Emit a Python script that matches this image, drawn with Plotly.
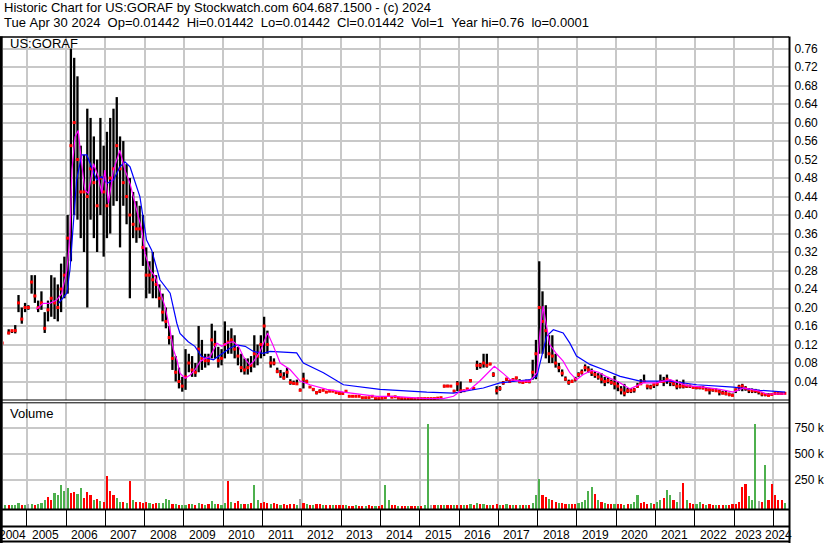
import plotly.graph_objects as go
import pandas as pd

# ---------------- text ----------------
header_line1 = "Historic Chart for US:GORAF by Stockwatch.com 604.687.1500 - (c) 2024"
header_line2 = ("Tue Apr 30 2024  Op=0.01442  Hi=0.01442  Lo=0.01442  Cl=0.01442  "
                "Vol=1  Year hi=0.76  lo=0.0001")
symbol_label = "US:GORAF"
volume_label = "Volume"

# ---------------- monthly price data (May 2004 .. Apr 2024) ----------------
first_month = "2004-05"
last_month = "2024-04"

highs = [
    0.123, None, 0.153, 0.150, 0.162, 0.227, 0.200, 0.210,                          # 2004
    0.205, 0.270, 0.270, 0.215, 0.235, 0.190, 0.215, 0.270, 0.265, 0.250, 0.295, 0.310,  # 2005
    0.400, 0.760, 0.740, 0.700, 0.550, 0.530, 0.630, 0.610, 0.570, 0.520, 0.610, 0.550,  # 2006
    0.580, 0.610, 0.630, 0.655, 0.570, 0.560, 0.510, 0.480, 0.450, 0.430, 0.420, 0.400,  # 2007
    0.330, 0.300, 0.320, 0.270, 0.250, 0.230, 0.200, 0.160, 0.140, 0.095, 0.070, 0.050,  # 2008
    0.110, 0.100, 0.095, 0.080, 0.160, 0.130, 0.100, 0.100, 0.165, 0.150, 0.115, 0.110,  # 2009
    0.170, 0.150, 0.155, 0.140, 0.115, 0.100, 0.090, 0.090, 0.095, 0.140, 0.120, 0.140,  # 2010
    0.180, 0.150, 0.095, 0.090, 0.070, 0.065, 0.060, 0.070, 0.045, 0.042, 0.044, 0.025,  # 2011
    0.059, 0.044, 0.030, 0.026, 0.019, 0.023, 0.023, 0.019, 0.020, 0.020, 0.017, 0.015,  # 2012
    0.016, 0.020, 0.009, 0.009, 0.009, 0.008, 0.006, 0.006, 0.006, 0.008, 0.004, 0.004,  # 2013
    0.005, 0.006, 0.013, 0.007, 0.007, 0.005, 0.004, 0.004, 0.004, 0.004, 0.003, 0.004,  # 2014
    0.004, 0.004, 0.004, 0.004, 0.004, 0.005, 0.006, 0.033, 0.033, 0.032, 0.022, 0.041,  # 2015
    0.040, 0.022, 0.026, 0.045, 0.028, 0.085, 0.080, 0.100, 0.100, 0.080, 0.060, 0.030,  # 2016
    0.030, 0.041, 0.048, 0.044, 0.047, 0.050, 0.045, 0.042, 0.044, 0.044, 0.087, 0.130,  # 2017
    0.300, 0.235, 0.205, 0.140, 0.140, 0.100, 0.080, 0.066, 0.051, 0.044, 0.044, 0.050,  # 2018
    0.060, 0.066, 0.077, 0.073, 0.068, 0.062, 0.058, 0.058, 0.050, 0.050, 0.044, 0.052,  # 2019
    0.040, 0.030, 0.035, 0.026, 0.026, 0.026, 0.037, 0.045, 0.055, 0.033, 0.033, 0.035,  # 2020
    0.040, 0.055, 0.050, 0.055, 0.044, 0.040, 0.044, 0.040, 0.044, 0.033, 0.033, 0.030,  # 2021
    0.030, 0.030, 0.030, 0.026, 0.026, 0.026, 0.025, 0.023, 0.020, 0.020, 0.016, 0.014,  # 2022
    0.025, 0.033, 0.035, 0.030, 0.026, 0.025, 0.024, 0.022, 0.016, 0.015, 0.015, 0.015,  # 2023
    0.015, 0.015, 0.015, 0.0144,                                                      # 2024
]

lows = [
    0.123, None, 0.142, 0.145, 0.144, 0.190, 0.165, 0.190,
    0.195, 0.230, 0.210, 0.190, 0.195, 0.145, 0.170, 0.180, 0.175, 0.170, 0.190, 0.220,
    0.230, 0.300, 0.400, 0.390, 0.350, 0.320, 0.200, 0.390, 0.350, 0.320, 0.400, 0.310,
    0.350, 0.360, 0.420, 0.430, 0.330, 0.420, 0.380, 0.220, 0.350, 0.340, 0.350, 0.290,
    0.220, 0.230, 0.220, 0.220, 0.200, 0.170, 0.155, 0.120, 0.065, 0.040, 0.025, 0.018,
    0.022, 0.060, 0.050, 0.050, 0.060, 0.065, 0.070, 0.075, 0.090, 0.090, 0.070, 0.075,
    0.090, 0.100, 0.100, 0.090, 0.075, 0.060, 0.055, 0.055, 0.060, 0.070, 0.075, 0.090,
    0.095, 0.100, 0.070, 0.075, 0.058, 0.048, 0.044, 0.048, 0.033, 0.033, 0.033, 0.019,
    0.025, 0.037, 0.026, 0.019, 0.012, 0.015, 0.019, 0.016, 0.018, 0.018, 0.015, 0.013,
    0.013, 0.018, 0.007, 0.007, 0.007, 0.007, 0.004, 0.004, 0.004, 0.007, 0.002, 0.002,
    0.003, 0.004, 0.011, 0.005, 0.006, 0.003, 0.002, 0.002, 0.002, 0.002, 0.001, 0.002,
    0.002, 0.002, 0.002, 0.002, 0.002, 0.003, 0.004, 0.027, 0.028, 0.028, 0.017, 0.019,
    0.015, 0.018, 0.022, 0.038, 0.022, 0.065, 0.068, 0.070, 0.070, 0.075, 0.050, 0.012,
    0.020, 0.033, 0.041, 0.038, 0.040, 0.044, 0.036, 0.035, 0.038, 0.036, 0.044, 0.045,
    0.100, 0.100, 0.090, 0.080, 0.080, 0.070, 0.060, 0.051, 0.041, 0.033, 0.037, 0.040,
    0.050, 0.055, 0.062, 0.059, 0.052, 0.048, 0.044, 0.036, 0.030, 0.036, 0.033, 0.023,
    0.019, 0.012, 0.008, 0.015, 0.015, 0.016, 0.026, 0.035, 0.037, 0.023, 0.023, 0.026,
    0.030, 0.037, 0.030, 0.035, 0.030, 0.030, 0.023, 0.025, 0.025, 0.026, 0.026, 0.024,
    0.023, 0.023, 0.023, 0.020, 0.012, 0.018, 0.018, 0.010, 0.012, 0.010, 0.008, 0.008,
    0.015, 0.020, 0.019, 0.020, 0.015, 0.015, 0.015, 0.012, 0.008, 0.008, 0.008, 0.010,
    0.012, 0.012, 0.012, 0.0144,
]

closes = [
    0.123, None, 0.145, 0.150, 0.150, 0.210, 0.175, 0.200,
    0.200, 0.255, 0.225, 0.200, 0.210, 0.155, 0.195, 0.220, 0.210, 0.200, 0.240, 0.270,
    0.350, 0.550, 0.600, 0.520, 0.450, 0.450, 0.440, 0.500, 0.470, 0.420, 0.480, 0.450,
    0.420, 0.480, 0.500, 0.550, 0.500, 0.470, 0.440, 0.400, 0.380, 0.370, 0.370, 0.330,
    0.270, 0.270, 0.260, 0.250, 0.220, 0.190, 0.170, 0.135, 0.090, 0.060, 0.040, 0.030,
    0.050, 0.080, 0.065, 0.060, 0.110, 0.090, 0.085, 0.085, 0.130, 0.120, 0.085, 0.090,
    0.120, 0.125, 0.130, 0.110, 0.095, 0.070, 0.065, 0.070, 0.075, 0.100, 0.095, 0.120,
    0.160, 0.120, 0.080, 0.080, 0.062, 0.055, 0.048, 0.060, 0.038, 0.036, 0.035, 0.021,
    0.045, 0.040, 0.028, 0.023, 0.016, 0.019, 0.021, 0.017, 0.019, 0.019, 0.016, 0.014,
    0.014, 0.019, 0.008, 0.008, 0.008, 0.008, 0.005, 0.005, 0.005, 0.008, 0.003, 0.003,
    0.004, 0.005, 0.012, 0.006, 0.007, 0.004, 0.003, 0.003, 0.003, 0.003, 0.002, 0.003,
    0.003, 0.003, 0.003, 0.003, 0.003, 0.004, 0.005, 0.030, 0.030, 0.030, 0.019, 0.035,
    0.020, 0.020, 0.024, 0.042, 0.025, 0.075, 0.075, 0.080, 0.075, 0.078, 0.055, 0.020,
    0.025, 0.037, 0.045, 0.040, 0.044, 0.048, 0.040, 0.038, 0.040, 0.040, 0.060, 0.100,
    0.200, 0.170, 0.150, 0.100, 0.095, 0.080, 0.070, 0.058, 0.045, 0.038, 0.040, 0.045,
    0.055, 0.060, 0.070, 0.065, 0.060, 0.055, 0.050, 0.045, 0.040, 0.042, 0.038, 0.035,
    0.030, 0.022, 0.015, 0.020, 0.020, 0.022, 0.030, 0.035, 0.040, 0.030, 0.028, 0.033,
    0.035, 0.040, 0.040, 0.045, 0.040, 0.035, 0.030, 0.030, 0.030, 0.030, 0.030, 0.027,
    0.027, 0.027, 0.026, 0.022, 0.022, 0.022, 0.020, 0.018, 0.015, 0.014, 0.012, 0.010,
    0.022, 0.028, 0.030, 0.025, 0.022, 0.020, 0.020, 0.018, 0.013, 0.012, 0.010, 0.012,
    0.014, 0.014, 0.014, 0.01442,
]

# volume (thousands of shares, tallest daily bar in each month)
volumes_k = [
    15, 5, 10, 5, 10, 34, 10, 8,
    20, 15, 10, 15, 25, 56, 88, 60, 130, 110, 200, 150,
    175, 130, 137, 120, 170, 80, 137, 105, 60, 72, 50, 40,
    290, 150, 110, 80, 40, 40, 30, 240, 56, 40, 40, 30,
    40, 30, 20, 34, 25, 30, 72, 60, 24, 15, 8, 8,
    10, 20, 15, 10, 25, 15, 10, 20, 47, 20, 15, 10,
    30, 240, 40, 30, 50, 20, 15, 20, 30, 200, 56, 30,
    40, 30, 20, 25, 15, 10, 15, 10, 24, 15, 10, 72,
    30, 15, 10, 10, 24, 15, 10, 5, 10, 8, 5, 5,
    5, 5, 3, 3, 5, 3, 3, 3, 5, 3, 3, 3,
    5, 208, 56, 8, 5, 3, 3, 3, 3, 3, 3, 3,
    3, 5, 800, 10, 5, 5, 5, 10, 8, 10, 5, 10,
    10, 8, 8, 15, 10, 25, 15, 20, 10, 10, 8, 15,
    10, 8, 20, 10, 8, 10, 5, 8, 5, 10, 30, 110,
    260, 105, 90, 72, 60, 40, 30, 25, 20, 15, 15, 20,
    25, 40, 60, 150, 180, 120, 60, 40, 30, 20, 15, 20,
    20, 15, 10, 15, 20, 40, 105, 30, 40, 20, 30, 15,
    40, 60, 80, 153, 110, 60, 40, 137, 227, 56, 30, 20,
    15, 40, 20, 10, 15, 10, 8, 10, 8, 10, 8, 15,
    20, 40, 185, 218, 100, 60, 800, 50, 40, 395, 60, 218,
    105, 60, 56, 30,
]
# g = up day (green), r = down day (red), n = unchanged (grey)
volume_direction = (
    "ggrgggrg"
    "ngrgggrrgggg" "grrggrrrgrgr" "rrrggrgrgrrr" "rgrrggggrgrg" "grgrgrgrggrg"
    "grgrrgrgrggr" "rrgrrgrrrrgn" "rgrgrrgrrgrr" "rgrrgrrgrrgr" "rggrrgrrgrrg"
    "rggnrgrgrrgr" "rgrgrgrgrgrr" "grgrgrgrgrgg" "grrgrrgrrgrr" "gggggrgrgrrg"
    "rrgrgggrrrgr" "ggrggrgnrgrr" "ggrgrrgrrgrr" "rrrrgggnrgrr"
    "rrrg"
)

# moving averages (decimal year, price)
ma_short_years = [2005.24, 2005.42, 2005.59, 2005.76, 2005.89, 2006.02, 2006.10, 2006.15, 2006.23,
                  2006.31, 2006.40, 2006.48, 2006.57, 2006.70, 2006.82, 2006.91, 2006.99, 2007.08,
                  2007.21, 2007.37, 2007.50, 2007.63, 2007.80, 2007.93, 2008.01, 2008.14, 2008.27,
                  2008.39, 2008.52, 2008.65, 2008.73, 2008.82, 2008.90, 2009.03, 2009.16, 2009.28,
                  2009.41, 2009.54, 2009.67, 2009.84, 2009.96, 2010.09, 2010.26, 2010.39, 2010.51,
                  2010.68, 2010.77, 2010.94, 2011.13, 2011.28, 2011.45, 2011.70, 2011.96, 2012.21,
                  2012.64, 2013.06, 2013.48, 2013.91, 2014.33, 2014.76, 2015.18, 2015.60, 2015.86,
                  2016.03, 2016.28, 2016.53, 2016.90, 2017.13, 2017.30, 2017.55, 2017.81, 2017.98,
                  2018.06, 2018.14, 2018.23, 2018.31, 2018.48, 2018.65, 2018.82, 2018.99, 2019.16,
                  2019.38, 2019.55, 2019.76, 2020.01, 2020.10, 2020.35, 2020.69, 2021.03, 2021.37,
                  2021.80, 2022.22, 2022.64, 2022.98, 2023.24, 2023.66, 2023.83, 2024.30]
ma_short_values = [0.196, 0.209, 0.209, 0.216, 0.230, 0.280, 0.353, 0.497, 0.569,
                   0.583, 0.511, 0.454, 0.447, 0.511, 0.483, 0.447, 0.497, 0.425,
                   0.497, 0.540, 0.497, 0.468, 0.410, 0.368, 0.317, 0.281, 0.267,
                   0.238, 0.202, 0.150, 0.110, 0.087, 0.058, 0.047, 0.054, 0.065,
                   0.083, 0.090, 0.094, 0.123, 0.116, 0.123, 0.126, 0.116, 0.094,
                   0.076, 0.083, 0.105, 0.145, 0.116, 0.080, 0.066, 0.041, 0.033,
                   0.023, 0.017, 0.012, 0.008, 0.008, 0.005, 0.003, 0.003, 0.008,
                   0.019, 0.023, 0.041, 0.073, 0.057, 0.044, 0.041, 0.041, 0.059,
                   0.145, 0.203, 0.160, 0.120, 0.100, 0.084, 0.059, 0.044, 0.055,
                   0.064, 0.060, 0.050, 0.041, 0.037, 0.024, 0.037, 0.037, 0.044,
                   0.031, 0.028, 0.023, 0.017, 0.026, 0.019, 0.013, 0.013]

ma_long_years = [2005.81, 2006.02, 2006.10, 2006.17, 2006.27, 2006.40, 2006.53, 2006.65, 2006.78,
                 2006.91, 2007.04, 2007.21, 2007.37, 2007.50, 2007.63, 2007.88, 2008.05, 2008.18,
                 2008.39, 2008.65, 2008.82, 2008.90, 2009.11, 2009.28, 2009.45, 2009.75, 2010.00,
                 2010.17, 2010.34, 2010.56, 2010.77, 2011.02, 2011.19, 2011.87, 2012.04, 2012.55,
                 2013.06, 2013.99, 2015.18, 2015.86, 2016.62, 2017.04, 2017.81, 2017.98, 2018.23,
                 2018.40, 2018.65, 2018.82, 2018.99, 2019.33, 2019.67, 2020.01, 2020.10, 2020.61,
                 2021.37, 2022.05, 2022.98, 2023.66, 2024.30]
ma_long_values = [0.209, 0.231, 0.281, 0.368, 0.476, 0.530, 0.530, 0.504, 0.476,
                  0.483, 0.468, 0.476, 0.504, 0.515, 0.504, 0.440, 0.346, 0.324,
                  0.260, 0.231, 0.166, 0.144, 0.126, 0.116, 0.094, 0.087, 0.101,
                  0.112, 0.119, 0.116, 0.105, 0.101, 0.105, 0.102, 0.080, 0.059,
                  0.033, 0.023, 0.017, 0.015, 0.026, 0.037, 0.044, 0.051, 0.138,
                  0.152, 0.145, 0.123, 0.095, 0.077, 0.066, 0.055, 0.051, 0.041,
                  0.041, 0.033, 0.028, 0.021, 0.017]

# axis ticks
price_ticks = [0.04, 0.08, 0.12, 0.16, 0.20, 0.24, 0.28, 0.32, 0.36, 0.40,
               0.44, 0.48, 0.52, 0.56, 0.60, 0.64, 0.68, 0.72, 0.76]
volume_ticks = [250000, 500000, 750000]
volume_tick_labels = ["250 k", "500 k", "750 k"]
year_labels = [str(y) for y in range(2004, 2025)]
year_boundaries = list(range(2005, 2025))

# ---------------- build ----------------
months = pd.period_range(first_month, last_month, freq="M")
t = [p.year + (p.month - 0.5) / 12 for p in months]
assert len(t) == len(highs) == len(lows) == len(closes) == len(volumes_k) == len(volume_direction)

FONT = "Liberation Sans, Arial, sans-serif"
GRID = "#C8C8C8"
GREEN = "#4DB04D"
RED = "#FF0000"
GREY = "#A8A8A8"
BIG = 13     # header / panel captions
SMALL = 12   # axis labels

# pixel geometry
W, H = 830, 543
PL, PR, PT, PB = 3, 789, 37, 509
def fx(px):
    return (px - PL) / (PR - PL)
def fy(py):
    return (PB - py) / (PB - PT)

VOL_FLOOR = -34000

fig = go.Figure()

# high-low bars
bx, by = [], []
for ti, h, l in zip(t, highs, lows):
    if h is None:
        continue
    bx += [ti, ti, None]
    by += [l, h, None]
fig.add_trace(go.Scatter(x=bx, y=by, mode="lines", line=dict(color="black", width=2.3),
                         hoverinfo="skip", showlegend=False, xaxis="x", yaxis="y"))

# closes
ct = [ti for ti, c in zip(t, closes) if c is not None]
cv = [c for c in closes if c is not None]
fig.add_trace(go.Scatter(x=ct, y=cv, mode="markers",
                         marker=dict(symbol="square", size=3, color=RED, line=dict(width=0)),
                         showlegend=False, xaxis="x", yaxis="y"))

# moving averages
fig.add_trace(go.Scatter(x=ma_long_years, y=ma_long_values, mode="lines",
                         line=dict(color="#0000FF", width=1.2), showlegend=False,
                         xaxis="x", yaxis="y"))
fig.add_trace(go.Scatter(x=ma_short_years, y=ma_short_values, mode="lines",
                         line=dict(color="#FF00FF", width=1.2), showlegend=False,
                         xaxis="x", yaxis="y"))

# volume bars
cmap = {"g": GREEN, "r": RED, "n": GREY}
fig.add_trace(go.Bar(x=t, y=[v * 1000 - VOL_FLOOR for v in volumes_k], base=VOL_FLOOR,
                     width=0.055, marker=dict(color=[cmap[c] for c in volume_direction],
                                              line=dict(width=0)),
                     showlegend=False, xaxis="x2", yaxis="y2"))

xr = [2005 + (PL - 26.7) / 39.3, 2005 + (PR - 26.7) / 39.3]

axis_common = dict(showline=False, zeroline=False, showgrid=True, gridcolor=GRID, gridwidth=2,
                   automargin=False)

fig.update_layout(
    width=W, height=H,
    margin=dict(l=PL, r=W - PR, t=PT, b=H - PB, autoexpand=False),
    paper_bgcolor="white", plot_bgcolor="white",
    font=dict(family=FONT, size=SMALL, color="black"),
    bargap=0,
    xaxis=dict(domain=[0, 1], anchor="y", range=xr, tickvals=year_boundaries,
               showticklabels=False, ticks="", **axis_common),
    xaxis2=dict(domain=[0, 1], anchor="y2", range=xr, tickvals=year_boundaries,
                showticklabels=False, ticks="outside", ticklen=17, tickwidth=1,
                tickcolor="black", matches="x", **axis_common),
    yaxis=dict(domain=[fy(400), 1], anchor="x", range=[0, 0.785], side="right",
               tickvals=price_ticks, ticktext=["%.2f" % v for v in price_ticks],
               ticks="outside", ticklen=2, tickcolor="rgba(0,0,0,0)",
               tickfont=dict(family=FONT, size=SMALL, color="black"), **axis_common),
    yaxis2=dict(domain=[0, fy(402.5)], anchor="x2", range=[VOL_FLOOR, 1000000], side="right",
                tickvals=volume_ticks, ticktext=volume_tick_labels,
                ticks="outside", ticklen=2, tickcolor="rgba(0,0,0,0)",
                tickfont=dict(family=FONT, size=SMALL, color="black"), **axis_common),
    hovermode=False,
)

# borders
shapes = []
def hline(py, w=1, x0=0, x1=PR):
    shapes.append(dict(type="line", xref="paper", yref="paper", x0=fx(x0), x1=fx(x1),
                       y0=fy(py), y1=fy(py), line=dict(color="black", width=w)))
def vline(px, w=1, y0=PT, y1=H):
    shapes.append(dict(type="line", xref="paper", yref="paper", x0=fx(px), x1=fx(px),
                       y0=fy(y0), y1=fy(y1), line=dict(color="black", width=w)))
hline(37, 1.5)
hline(400, 1)
hline(402.8, 1)
hline(509.5, 2)
hline(526.5, 2)
hline(541.5, 2)
vline(1.2, 3, 36.5, 543)
vline(789.5, 2, 36.5, 543)
fig.update_layout(shapes=shapes)

ann = []
ann.append(dict(xref="paper", yref="paper", x=fx(3), y=fy(7.5), xanchor="left", yanchor="middle",
                text=header_line1, showarrow=False, borderpad=0, font=dict(family=FONT, size=BIG)))
ann.append(dict(xref="paper", yref="paper", x=fx(3), y=fy(22.5), xanchor="left", yanchor="middle",
                text=header_line2.replace(" ", "\u00a0"), showarrow=False, borderpad=0,
                font=dict(family=FONT, size=BIG)))
ann.append(dict(xref="paper", yref="paper", x=fx(8), y=fy(44), xanchor="left", yanchor="middle",
                text=symbol_label, showarrow=False, font=dict(family=FONT, size=BIG)))
ann.append(dict(xref="paper", yref="paper", x=fx(8), y=fy(413), xanchor="left", yanchor="middle",
                text=volume_label, showarrow=False, font=dict(family=FONT, size=BIG)))

yl = fy(534.5)
for lab in year_labels:
    yr = int(lab)
    if yr == 2004:
        ann.append(dict(xref="x2", yref="paper", x=2005, y=yl, xanchor="right", xshift=1,
                        yanchor="middle", text=lab, showarrow=False, font=dict(family=FONT, size=SMALL)))
    elif yr == 2024:
        ann.append(dict(xref="paper", yref="paper", x=1, y=yl, xanchor="right", xshift=5,
                        yanchor="middle", text=lab, showarrow=False, font=dict(family=FONT, size=SMALL)))
    elif yr == 2023:
        ann.append(dict(xref="x2", yref="paper", x=2024, y=yl, xanchor="right", xshift=-9,
                        yanchor="middle", text=lab, showarrow=False, font=dict(family=FONT, size=SMALL)))
    else:
        ann.append(dict(xref="x2", yref="paper", x=yr + 0.5, y=yl, xanchor="center", xshift=-1,
                        yanchor="middle", text=lab, showarrow=False, font=dict(family=FONT, size=SMALL)))
fig.update_layout(annotations=ann)

fig.write_html("out.html", config={"displayModeBar": False},
               post_script="document.body.style.margin='0';document.body.style.padding='0';")
